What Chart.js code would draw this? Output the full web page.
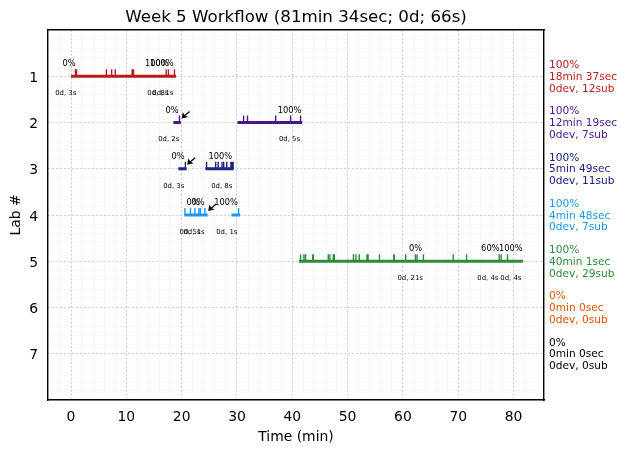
<!DOCTYPE html>
<html>
<head>
<meta charset="utf-8">
<title>Week 5 Workflow</title>
<script src="https://cdn.jsdelivr.net/npm/chart.js@4"></script>
<style>
html,body{margin:0;padding:0;background:#fff;}
canvas{display:block;}
</style>
</head>
<body>
<canvas id="workflowChart" width="630" height="453"></canvas>
<script>
// data, times in minutes
const labTicks = [1, 2, 3, 4, 5, 6, 7];
const timeTicks = [0, 10, 20, 30, 40, 50, 60, 70, 80];

const sessionLab = [1, 2, 2, 3, 3, 4, 4, 5];
const sessionStart = [0, 18.5, 30.1, 19.4, 24.3, 20.5, 29, 41.2];
const sessionEnd = [19, 19.85, 41.8, 20.9, 29.4, 24.7, 30.55, 81.7];

const submissionsLab1 = [0.8, 0.9, 1, 6.4, 7.35, 8, 11.05, 11.2, 11.3, 17.2, 17.6, 18.7];
const submissionsLab2 = [19.6, 31.2, 31.9, 37, 39.7, 41.5];
const submissionsLab3 = [20.67, 24.5, 26.15, 26.6, 27.3, 27.6, 28.15, 28.9, 29.1, 29.3];
const submissionsLab4 = [20.6, 21.6, 22.4, 23.1, 23.4, 24.2, 30.3];
const submissionsLab5 = [41.5, 42.1, 42.4, 43.7, 43.8, 46.5, 46.8, 47.4, 47.6, 51.05, 51.5, 52.1, 53.5, 53.7, 55.75, 58.35, 58.45, 60.5, 62.25, 62.55, 63.7, 69.1, 71.5, 77.4, 77.75, 78.9];
const submissions = [submissionsLab1, submissionsLab2, submissionsLab3, submissionsLab4, submissionsLab5];

const percentLab = [1, 1, 1, 2, 2, 3, 3, 4, 4, 4, 5, 5, 5];
const percentX = [-0.36, 15.5, 16.4, 18.26, 39.5, 19.35, 27, 22.06, 22.96, 28.03, 62.3, 75.8, 79.5];
const percentText = ["0%", "100%", "100%", "0%", "100%", "0%", "100%", "0%", "0%", "100%", "0%", "60%", "100%"];

const durationLab = [1, 1, 1, 2, 2, 3, 3, 4, 4, 4, 5, 5, 5];
const durationX = [-0.96, 15.7, 16.6, 17.67, 39.5, 18.57, 27.25, 21.5, 22.24, 28.16, 61.3, 75.35, 79.5];
const durationText = ["0d, 3s", "0d, 8s", "0d, 1s", "0d, 2s", "0d, 5s", "0d, 3s", "0d, 8s", "0d, 5s", "0d, 1s", "0d, 1s", "0d, 21s", "0d, 4s", "0d, 4s"];

const arrowLab = [2, 3, 4];
const arrowX = [20, 21, 24.8];

const summaryPercent = ["100%", "100%", "100%", "100%", "100%", "0%", "0%"];
const summaryTime = ["18min 37sec", "12min 19sec", "5min 49sec", "4min 48sec", "40min 1sec", "0min 0sec", "0min 0sec"];
const summaryCount = ["0dev, 12sub", "0dev, 7sub", "0dev, 11sub", "0dev, 7sub", "0dev, 29sub", "0dev, 0sub", "0dev, 0sub"];

const labColors = ["#b71c1c", "#4a148c", "#1a237e", "#2196f3", "#2e8b3a", "#e65100", "#000000"];

const FONT = "'DejaVu Sans'";
const TICK_RISE = 0.15;

Chart.defaults.font.family = FONT;
Chart.defaults.color = "#000";

const datasets = [];

sessionLab.forEach(function(lab, i){
    datasets.push({
        data: [{x: sessionStart[i], y: lab}, {x: sessionEnd[i], y: lab}],
        borderColor: labColors[lab - 1],
        borderWidth: 3,
        borderCapStyle: "butt",
        pointRadius: 0
    });
});

submissions.forEach(function(times, i){
    const lab = i + 1;
    const pts = [];
    times.forEach(function(t){
        pts.push({x: t, y: lab}, {x: t, y: lab - TICK_RISE}, {x: t, y: NaN});
    });
    datasets.push({
        data: pts,
        borderColor: labColors[i],
        borderWidth: 1.4,
        borderCapStyle: "butt",
        pointRadius: 0,
        spanGaps: false
    });
});

// percent and duration notes, arrows, and the summary right of the axes
const notesPlugin = {
    id: "notes",
    afterDatasetsDraw: function(chart){
        const c = chart.ctx;
        const sx = chart.scales.x;
        const sy = chart.scales.y;
        c.save();
        c.textBaseline = "middle";
        c.fillStyle = "#000";
        c.textAlign = "center";

        c.font = "8.3px " + FONT;
        percentText.forEach(function(t, i){
            c.fillText(t, sx.getPixelForValue(percentX[i]), sy.getPixelForValue(percentLab[i]) - 12);
        });

        c.font = "6.9px " + FONT;
        durationText.forEach(function(t, i){
            c.fillText(t, sx.getPixelForValue(durationX[i]), sy.getPixelForValue(durationLab[i]) + 17);
        });

        arrowX.forEach(function(v, i){
            const hx = sx.getPixelForValue(v);
            const hy = sy.getPixelForValue(arrowLab[i]) - 4;
            c.strokeStyle = "#000";
            c.lineWidth = 1.3;
            c.beginPath();
            c.moveTo(hx + 8, hy - 7);
            c.lineTo(hx + 2, hy - 2);
            c.stroke();
            c.beginPath();
            c.moveTo(hx, hy);
            c.lineTo(hx + 1.2, hy - 6.5);
            c.lineTo(hx + 3, hy - 3);
            c.lineTo(hx + 6.5, hy - 1.5);
            c.closePath();
            c.fill();
        });

        c.textAlign = "left";
        c.font = "10.6px " + FONT;
        labTicks.forEach(function(lab, i){
            const y = sy.getPixelForValue(lab) + 0.8;
            c.fillStyle = labColors[i];
            c.fillText(summaryPercent[i], 549, y - 11.7);
            c.fillText(summaryTime[i], 549, y);
            c.fillText(summaryCount[i], 549, y + 11.7);
        });
        c.restore();
    }
};

new Chart(
    document.getElementById("workflowChart"),
    {
        type: "line",
        data: {datasets: datasets},
        plugins: [notesPlugin],
        options: {
            responsive: false,
            devicePixelRatio: 1,
            animation: false,
            layout: {padding: {top: 0, right: 86, bottom: 0, left: 0}},
            plugins: {
                legend: {display: false},
                tooltip: {enabled: false},
                title: {
                    display: true,
                    text: "Week 5 Workflow (81min 34sec; 0d; 66s)",
                    fullSize: false,
                    color: "#000",
                    font: {size: 16.67, weight: "normal"},
                    padding: {top: 7.5, bottom: 2.5}
                }
            },
            scales: {
                xMinor: {
                    type: "linear",
                    axis: "x",
                    position: "top",
                    min: -4.16,
                    max: 85.5,
                    ticks: {display: false, stepSize: 2},
                    grid: {color: "rgba(0,0,0,0.03)", lineWidth: 1, drawTicks: false},
                    border: {color: "#000", width: 1.4},
                    afterFit: function(scale){ scale.height = 0; }
                },
                yMinor: {
                    type: "linear",
                    axis: "y",
                    position: "right",
                    reverse: true,
                    min: 0,
                    max: 8,
                    ticks: {display: false, stepSize: 0.2},
                    grid: {color: "rgba(0,0,0,0.03)", lineWidth: 1, drawTicks: false},
                    border: {color: "#000", width: 1.4},
                    afterFit: function(scale){ scale.width = 0; }
                },
                x: {
                    type: "linear",
                    position: "bottom",
                    min: -4.16,
                    max: 85.5,
                    afterBuildTicks: function(scale){
                        scale.ticks = timeTicks.map(function(v){ return {value: v}; });
                    },
                    ticks: {font: {size: 13.9}, padding: 9, maxRotation: 0},
                    grid: {color: "#c4c4c4", lineWidth: 1, drawTicks: false},
                    border: {color: "#000", width: 1.4, dash: [1.4, 2.6]},
                    title: {
                        display: true,
                        text: "Time (min)",
                        color: "#000",
                        font: {size: 13.9},
                        padding: {top: 0, bottom: 7}
                    },
                    afterFit: function(scale){ scale.height = 53; }
                },
                y: {
                    type: "linear",
                    position: "left",
                    reverse: true,
                    min: 0,
                    max: 8,
                    afterBuildTicks: function(scale){
                        scale.ticks = labTicks.map(function(v){ return {value: v}; });
                    },
                    ticks: {font: {size: 13.9}, padding: 10, labelOffset: 2},
                    grid: {color: "#c4c4c4", lineWidth: 1, drawTicks: false},
                    border: {color: "#000", width: 1.4, dash: [1.4, 2.6]},
                    title: {
                        display: true,
                        text: "Lab #",
                        color: "#000",
                        font: {size: 13.9},
                        padding: {top: 7.6, bottom: 0}
                    },
                    afterFit: function(scale){ scale.width = 48; }
                }
            }
        }
    }
);
</script>
</body>
</html>
